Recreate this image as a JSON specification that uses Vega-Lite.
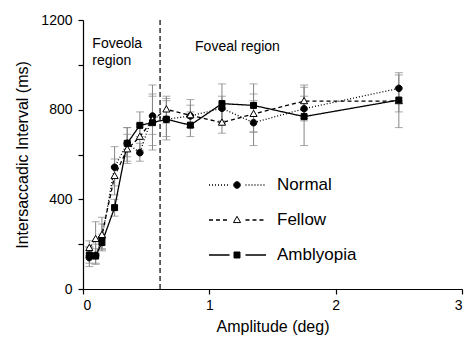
{
  "$schema": "https://vega.github.io/schema/vega-lite/v6.json",
  "width": 379,
  "height": 269,
  "autosize": "none",
  "padding": {"left": 83, "top": 20, "right": 5, "bottom": 54},
  "config": {
    "font": "Liberation Sans",
    "view": {"stroke": null},
    "axis": {"grid": false, "domainColor": "#000", "tickColor": "#000", "labelColor": "#000", "titleColor": "#000", "labelFontSize": 14, "titleFontSize": 16, "titleFontWeight": "normal", "tickSize": 5, "domainWidth": 1.2, "tickWidth": 1.2}
  },
  "data": {
    "values": [
      {"s": "Normal", "a": 0.05, "m": 140, "lo": 100, "hi": 185},
      {"s": "Normal", "a": 0.10, "m": 150, "lo": 110, "hi": 200},
      {"s": "Normal", "a": 0.15, "m": 227, "lo": 180, "hi": 290},
      {"s": "Normal", "a": 0.25, "m": 543, "lo": 460, "hi": 635},
      {"s": "Normal", "a": 0.35, "m": 650, "lo": 590, "hi": 720},
      {"s": "Normal", "a": 0.45, "m": 608, "lo": 570, "hi": 650},
      {"s": "Normal", "a": 0.55, "m": 772, "lo": 690, "hi": 860},
      {"s": "Normal", "a": 0.66, "m": 757, "lo": 680, "hi": 840},
      {"s": "Normal", "a": 0.85, "m": 772, "lo": 720, "hi": 820},
      {"s": "Normal", "a": 1.10, "m": 806, "lo": 750, "hi": 860},
      {"s": "Normal", "a": 1.35, "m": 742, "lo": 640, "hi": 840},
      {"s": "Normal", "a": 1.75, "m": 804, "lo": 750, "hi": 860},
      {"s": "Normal", "a": 2.50, "m": 895, "lo": 840, "hi": 965},
      {"s": "Fellow", "a": 0.05, "m": 183, "lo": 150, "hi": 215},
      {"s": "Fellow", "a": 0.10, "m": 223, "lo": 160, "hi": 300},
      {"s": "Fellow", "a": 0.15, "m": 241, "lo": 175, "hi": 320},
      {"s": "Fellow", "a": 0.25, "m": 504, "lo": 420, "hi": 580},
      {"s": "Fellow", "a": 0.35, "m": 623, "lo": 560, "hi": 690},
      {"s": "Fellow", "a": 0.45, "m": 679, "lo": 620, "hi": 735},
      {"s": "Fellow", "a": 0.55, "m": 754, "lo": 620, "hi": 910},
      {"s": "Fellow", "a": 0.66, "m": 801, "lo": 740, "hi": 860},
      {"s": "Fellow", "a": 0.85, "m": 775, "lo": 720, "hi": 845},
      {"s": "Fellow", "a": 1.10, "m": 742, "lo": 695, "hi": 800},
      {"s": "Fellow", "a": 1.35, "m": 781, "lo": 700, "hi": 870},
      {"s": "Fellow", "a": 1.75, "m": 838, "lo": 760, "hi": 910},
      {"s": "Fellow", "a": 2.50, "m": 838, "lo": 720, "hi": 955},
      {"s": "Amblyopia", "a": 0.05, "m": 152, "lo": 115, "hi": 190},
      {"s": "Amblyopia", "a": 0.10, "m": 147, "lo": 115, "hi": 180},
      {"s": "Amblyopia", "a": 0.15, "m": 207, "lo": 170, "hi": 245},
      {"s": "Amblyopia", "a": 0.25, "m": 363, "lo": 325, "hi": 400},
      {"s": "Amblyopia", "a": 0.35, "m": 650, "lo": 570, "hi": 720},
      {"s": "Amblyopia", "a": 0.45, "m": 730, "lo": 680, "hi": 790},
      {"s": "Amblyopia", "a": 0.55, "m": 742, "lo": 640, "hi": 870},
      {"s": "Amblyopia", "a": 0.66, "m": 757, "lo": 665, "hi": 850},
      {"s": "Amblyopia", "a": 0.85, "m": 731, "lo": 680, "hi": 790},
      {"s": "Amblyopia", "a": 1.10, "m": 827, "lo": 740, "hi": 915},
      {"s": "Amblyopia", "a": 1.35, "m": 819, "lo": 700, "hi": 915},
      {"s": "Amblyopia", "a": 1.75, "m": 769, "lo": 640, "hi": 900},
      {"s": "Amblyopia", "a": 2.50, "m": 843, "lo": 790, "hi": 900}
    ]
  },
  "layer": [
    {
      "mark": {"type": "errorbar", "color": "#858585", "ticks": {"size": 8, "color": "#858585"}, "rule": {"strokeWidth": 1}},
      "encoding": {
        "x": {"field": "a", "type": "quantitative", "title": "Amplitude (deg)", "scale": {"domain": [0, 3], "nice": false},
              "axis": {"values": [0, 1, 2, 3], "labelPadding": 4, "titlePadding": 6, "format": "d"}},
        "y": {"field": "lo", "type": "quantitative", "title": "Intersaccadic Interval (ms)", "scale": {"domain": [0, 1200], "nice": false},
              "axis": {"values": [0, 200, 400, 600, 800, 1000, 1200], "labelExpr": "datum.value % 400 === 0 ? datum.label : ''", "labelPadding": 6, "titlePadding": 10, "format": "d"}},
        "y2": {"field": "hi"}
      }
    },
    {
      "data": {"values": [{}]},
      "mark": {"type": "rule", "strokeDash": [5, 3], "color": "#000", "strokeWidth": 1.2},
      "encoding": {"x": {"datum": 0.61}}
    },
    {
      "mark": {"type": "line", "color": "#000", "strokeWidth": 1.3},
      "encoding": {
        "x": {"field": "a", "type": "quantitative", "title": "Amplitude (deg)"},
        "y": {"field": "m", "type": "quantitative", "title": "Intersaccadic Interval (ms)"},
        "strokeDash": {
          "field": "s", "type": "nominal", "sort": "descending",
          "scale": {"range": [[1, 2], [4, 3], [1, 0]]},
          "legend": {
            "title": null, "orient": "none", "legendX": 125, "legendY": 155, "padding": 0,
            "symbolType": "M-1,0H-0.28M0.28,0H1", "symbolSize": 3249, "symbolStrokeColor": "#000", "symbolStrokeWidth": 1.3,
            "clipHeight": 20, "rowPadding": 15, "labelFontSize": 17, "labelOffset": 10, "labelColor": "#000", "symbolOffset": 0
          }
        }
      }
    },
    {
      "mark": {"type": "point", "filled": true, "size": 3249, "stroke": "#000", "strokeWidth": 1, "opacity": 1},
      "encoding": {
        "x": {"field": "a", "type": "quantitative", "title": "Amplitude (deg)"},
        "y": {"field": "m", "type": "quantitative", "title": "Intersaccadic Interval (ms)"},
        "fill": {
          "field": "s", "type": "nominal",
          "scale": {"domain": ["Normal", "Fellow", "Amblyopia"], "range": ["#000", "#fff", "#000"]},
          "legend": {
            "title": null, "orient": "none", "legendX": 125, "legendY": 155, "padding": 0,
            "symbolSize": 3249, "clipHeight": 20, "rowPadding": 15, "labelFontSize": 17, "labelOffset": 10, "labelOpacity": 0, "symbolOffset": 0,
            "symbolStrokeColor": "#000", "symbolStrokeWidth": 1, "symbolOpacity": 1,
            "encode": {"symbols": {"update": {"stroke": {"value": "#000"}, "strokeWidth": {"value": 1}}}}
          }
        },
        "shape": {
          "field": "s", "type": "nominal",
          "scale": {"domain": ["Normal", "Fellow", "Amblyopia"], "range": ["M0.115,0A0.115,0.115,0,1,1,-0.115,0A0.115,0.115,0,1,1,0.115,0Z", "M0,-0.13L0.125,0.09L-0.125,0.09Z", "M-0.105,-0.105H0.105V0.105H-0.105Z"]},
          "legend": {
            "title": null, "orient": "none", "legendX": 125, "legendY": 155, "padding": 0,
            "symbolSize": 3249, "clipHeight": 20, "rowPadding": 15, "labelFontSize": 17, "labelOffset": 10, "labelOpacity": 0, "symbolOffset": 0,
            "symbolStrokeColor": "#000", "symbolStrokeWidth": 1, "symbolOpacity": 1,
            "encode": {"symbols": {"update": {"stroke": {"value": "#000"}, "strokeWidth": {"value": 1}}}}
          }
        }
      }
    },
    {
      "data": {"values": [{}]},
      "mark": {"type": "text", "align": "left", "baseline": "alphabetic", "fontSize": 14, "lineHeight": 17, "color": "#000"},
      "encoding": {"x": {"datum": 0.074}, "y": {"datum": 1076}, "text": {"value": ["Foveola", "region"]}}
    },
    {
      "data": {"values": [{}]},
      "mark": {"type": "text", "align": "left", "baseline": "alphabetic", "fontSize": 14, "color": "#000"},
      "encoding": {"x": {"datum": 0.887}, "y": {"datum": 1062}, "text": {"value": "Foveal region"}}
    }
  ]
}
